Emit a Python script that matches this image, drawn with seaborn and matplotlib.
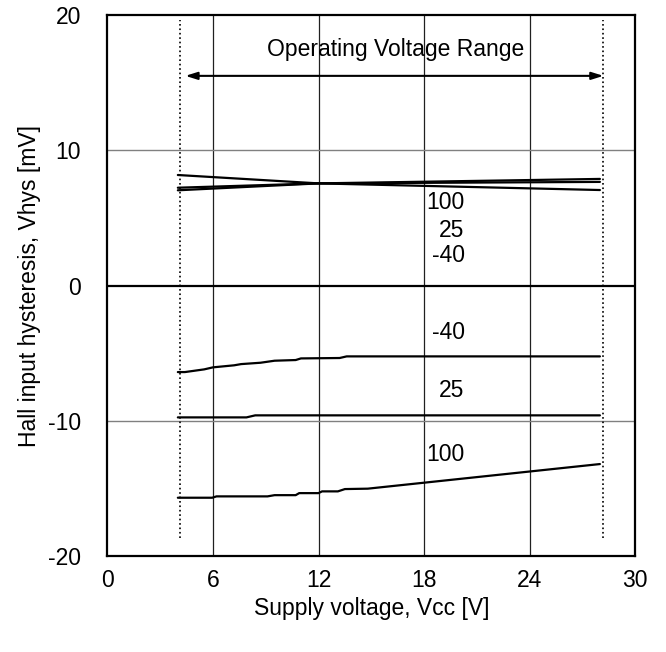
import numpy as np
import pandas as pd
import matplotlib
matplotlib.use('Agg')
import matplotlib.pyplot as plt
import seaborn as sns

# valores
vcc_top = [4, 12, 28]
top_100 = [7.23, 7.55, 7.88]
top_25 = [7.04, 7.55, 7.66]
top_m40 = [8.17, 7.55, 7.06]

vcc_m40 = [4, 4.4, 5.5, 6.0, 7.2, 7.6, 8.7, 9.5, 10.7, 11.0, 13.2, 13.6, 28]
bot_m40 = [-6.40, -6.40, -6.20, -6.05, -5.90, -5.81, -5.71, -5.56, -5.51, -5.39, -5.36, -5.24, -5.24]

vcc_25 = [4, 7.9, 8.4, 28]
bot_25 = [-9.75, -9.75, -9.60, -9.60]

vcc_100 = [4, 5.95, 6.2, 9.1, 9.5, 10.7, 10.9, 12.0, 12.2, 13.1, 13.5, 14.8, 28]
bot_100 = [-15.69, -15.69, -15.59, -15.59, -15.50, -15.50, -15.35, -15.35, -15.22, -15.22, -15.05, -15.02, -13.20]

vcc_range = [4.15, 28.2]
x_ticks = [0, 6, 12, 18, 24, 30]
y_ticks = [-20, -10, 0, 10, 20]

top_labels = ['100', '25', '-40']
top_label_y = [6.15, 4.1, 2.23]
bot_labels = ['-40', '25', '100']
bot_label_y = [-3.49, -7.78, -12.46]

sns.set_style('white')
plt.rcParams['font.family'] = ['Liberation Sans', 'DejaVu Sans']
plt.rcParams['axes.unicode_minus'] = False
plt.rcParams['text.color'] = 'black'
plt.rcParams['axes.labelcolor'] = 'black'
fs = 16.5

fig = plt.figure(figsize=(6.66, 6.52), dpi=100)
ax = fig.add_axes([0.1614, 0.1472, 0.7922, 0.8298])

# grade
for xv in x_ticks[1:-1]:
    ax.axvline(xv, color='#202020', lw=0.9, zorder=1)
for yv in [-10, 10]:
    ax.axhline(yv, color='#808080', lw=1.0, zorder=1)
ax.axhline(0, color='black', lw=1.6, zorder=2)

# faixa de operação
for xv in vcc_range:
    ax.plot([xv, xv], [-18.7, 19.6], color='black', ls=':', lw=1.2, zorder=2)
ax.annotate('', xy=(4.43, 15.5), xytext=(28.2, 15.5),
            arrowprops=dict(arrowstyle='<|-|>,head_length=0.7,head_width=0.22',
                            color='black', lw=1.5, shrinkA=0, shrinkB=0))
ax.text(16.4, 17.47, 'Operating Voltage Range', ha='center', va='center', fontsize=fs)

series = [
    (vcc_top, top_100), (vcc_top, top_25), (vcc_top, top_m40),
    (vcc_m40, bot_m40), (vcc_25, bot_25), (vcc_100, bot_100),
]
for xs, ys in series:
    sns.lineplot(x=xs, y=ys, color='black', lw=1.6, ax=ax, estimator=None, sort=False, zorder=3)

for lab, yv in zip(top_labels, top_label_y):
    ax.text(20.3, yv, lab, ha='right', va='center', fontsize=fs)
for lab, yv in zip(bot_labels, bot_label_y):
    ax.text(20.3, yv, lab, ha='right', va='center', fontsize=fs)

ax.set_xlim(0, 30)
ax.set_ylim(-20, 20)
ax.set_xticks(x_ticks)
ax.set_yticks(y_ticks)
ax.tick_params(axis='both', direction='in', length=5, width=1.2, colors='black', labelsize=fs)
ax.tick_params(axis='y', pad=19)
ax.tick_params(axis='x', pad=9)
for s in ax.spines.values():
    s.set_color('black')
    s.set_linewidth(1.6)

ax.set_xlabel('Supply voltage, Vcc [V]', fontsize=fs, labelpad=4)
ax.set_ylabel('Hall input hysteresis, Vhys [mV]', fontsize=fs, labelpad=5)

fig.savefig('out.png', dpi=100)
